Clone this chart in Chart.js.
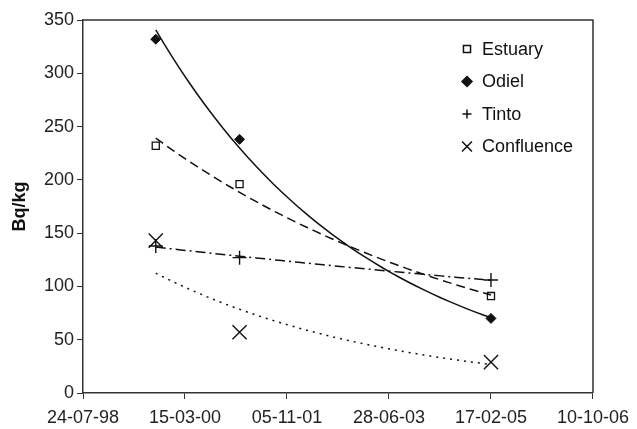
<!DOCTYPE html>
<html>
<head>
<meta charset="utf-8">
<script src="https://cdn.jsdelivr.net/npm/chart.js@4/dist/chart.umd.min.js"></script>
<style>
  html, body { margin: 0; padding: 0; background: #fff; }
  #wrap { width: 637px; height: 429px; }
</style>
</head>
<body>
<div id="wrap"><canvas id="TrendChart"></canvas></div>
<script>
// sampling dates and activity (Bq/kg)
const sampleDates = ["1999-09-25", "2001-01-30", "2005-02-17"];
const estuary = [232, 196, 91];
const odiel = [332, 238, 70];
const tinto = [138, 127, 106];
const confluence = [143, 57, 29];
const seriesNames = ["Estuary", "Odiel", "Tinto", "Confluence"];
const baseDate = "1998-07-24";

const DAY = 86400000;
const base = Date.parse(baseDate);
const days = sampleDates.map(d => (Date.parse(d) - base) / DAY);

function fmtDate(n) {
  const d = new Date(base + n * DAY);
  const p = v => String(v).padStart(2, "0");
  return p(d.getUTCDate()) + "-" + p(d.getUTCMonth() + 1) + "-" + p(d.getUTCFullYear() % 100);
}

// exponential trendline (least squares on ln y), like a spreadsheet trendline
function expTrend(ys) {
  const n = ys.length;
  const lx = days, ly = ys.map(Math.log);
  const mx = lx.reduce((a, b) => a + b, 0) / n;
  const my = ly.reduce((a, b) => a + b, 0) / n;
  let sxy = 0, sxx = 0;
  for (let i = 0; i < n; i++) {
    sxy += (lx[i] - mx) * (ly[i] - my);
    sxx += (lx[i] - mx) ** 2;
  }
  const b = sxy / sxx;
  const pts = [];
  const steps = 40;
  for (let k = 0; k <= steps; k++) {
    const x = days[0] + (days[n - 1] - days[0]) * k / steps;
    pts.push({ x: x, y: Math.exp(my + b * (x - mx)) });
  }
  return pts;
}

const pts = ys => ys.map((y, i) => ({ x: days[i], y: y }));

const ink = "#111";
const font = "'Liberation Sans', Arial, sans-serif";
const markers = [
  { style: "rect", radius: 5, legend: 5, fill: "#fff", width: 1.3 },
  { style: "rectRot", radius: 5, legend: 5, fill: ink, width: 1 },
  { style: "cross", radius: 7, legend: 4.5, fill: ink, width: 1.4 },
  { style: "crossRot", radius: 10, legend: 7, fill: ink, width: 1.4 }
];
const dashes = [[9, 5], [], [10, 4, 2, 4], [2, 5]];
const allSeries = [estuary, odiel, tinto, confluence];

const datasets = [];
allSeries.forEach((ys, i) => {
  datasets.push({
    label: seriesNames[i] + " trend",
    data: expTrend(ys),
    type: "line",
    borderColor: ink,
    borderWidth: 1.5,
    borderDash: dashes[i],
    pointRadius: 0,
    fill: false,
    tension: 0
  });
});
allSeries.forEach((ys, i) => {
  datasets.push({
    label: seriesNames[i],
    data: pts(ys),
    showLine: false,
    pointStyle: markers[i].style,
    pointRadius: markers[i].radius,
    pointBackgroundColor: markers[i].fill,
    pointBorderColor: ink,
    pointBorderWidth: markers[i].width
  });
});

// legend drawn inside the plot area, plus the box round the plot
const boxAndLegend = {
  id: "boxAndLegend",
  afterDraw(chart) {
    const { ctx, chartArea: a } = chart;
    ctx.save();
    ctx.strokeStyle = "#333";
    ctx.lineWidth = 1.5;
    ctx.beginPath();
    ctx.moveTo(a.left, a.top);
    ctx.lineTo(a.right, a.top);
    ctx.lineTo(a.right, a.bottom);
    ctx.stroke();

    ctx.font = "18px " + font;
    ctx.textBaseline = "middle";
    const lx = 467, ly0 = 49, gap = 32.5;
    seriesNames.forEach((name, i) => {
      const y = ly0 + i * gap;
      const m = markers[i];
      ctx.strokeStyle = ink;
      ctx.fillStyle = m.fill;
      Chart.helpers.drawPoint(ctx, {
        pointStyle: m.style,
        radius: m.legend,
        borderWidth: m.width
      }, lx, y);
      ctx.fillStyle = "#111";
      ctx.fillText(name, 482, y + 1);
    });
    ctx.restore();
  }
};

document.addEventListener("DOMContentLoaded", () => {
  const ctx = document.getElementById("TrendChart").getContext("2d");
  new Chart(ctx, {
    type: "scatter",
    data: { datasets: datasets },
    options: {
      responsive: true,
      maintainAspectRatio: false,
      animation: false,
      layout: { padding: { top: 20, right: 44, left: 0, bottom: 0 } },
      plugins: { legend: { display: false }, tooltip: { enabled: false } },
      scales: {
        x: {
          type: "linear",
          min: 0,
          max: 3000,
          grid: { drawOnChartArea: false, drawTicks: true, tickLength: 6, color: "#333" },
          border: { color: "#333", width: 1.5 },
          ticks: {
            stepSize: 600,
            color: "#222",
            font: { size: 18, family: font },
            padding: 8,
            maxRotation: 0,
            callback: v => fmtDate(v)
          },
          afterFit: s => { s.height = 36; }
        },
        y: {
          min: 0,
          max: 350,
          grid: { drawOnChartArea: false, drawTicks: true, tickLength: 6, color: "#333" },
          border: { color: "#333", width: 1.5 },
          ticks: {
            stepSize: 50,
            color: "#222",
            font: { size: 18, family: font },
            padding: 3
          },
          title: {
            display: true,
            text: "Bq/kg",
            color: "#111",
            font: { size: 18, weight: "bold", family: font },
            padding: { top: 9, bottom: 0 }
          },
          afterFit: s => { s.width = 83; }
        }
      }
    },
    plugins: [boxAndLegend]
  });
});
</script>
</body>
</html>
